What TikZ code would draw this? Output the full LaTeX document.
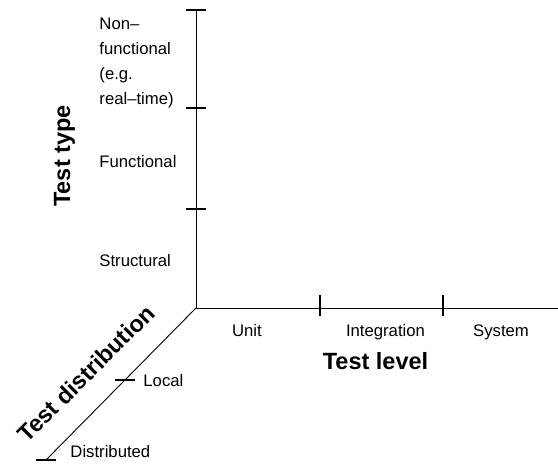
\documentclass[tikz,border=0pt]{standalone}
\usepackage{fontspec}
\setmainfont{Liberation Sans}

\begin{document}
\begin{tikzpicture}[x=1pt,y=1pt,line width=0.9pt,
  value/.style={inner sep=0,font=\fontsize{16.7}{25}\selectfont},
  title/.style={inner sep=0,font=\fontsize{23.5}{28}\selectfont\bfseries},
  tickmark/.style={line width=1.4pt}]
  \useasboundingbox (0,0) rectangle (558,465);

  % axes
  \coordinate (o) at (196,157);
  \coordinate (type) at (196,455);
  \coordinate (level) at (558,157);
  \coordinate (dist) at (46,5);
  \draw (type) -- (o) -- (level);
  \draw (o) -- (dist);

  % tick marks
  \coordinate (t1) at (196,357);
  \coordinate (t2) at (196,256);
  \coordinate (l1) at (320,157);
  \coordinate (l2) at (443,157);
  \coordinate (d1) at (125,85);
  \foreach \c in {type,t1,t2,d1,dist}
    \draw[tickmark] ([xshift=-10]\c) -- ([xshift=10]\c);
  \foreach \c in {l1,l2}
    \draw[tickmark] ([yshift=-8]\c) -- ([yshift=13]\c);

  % labels
  \node[value,anchor=north west,align=left] (nf) at (99,447) {Non–\\functional\\(e.g.\\real–time)};
  \node[value,anchor=base west] (fn) at (99,297) {Functional};
  \node[value,anchor=base west] (st) at (99,198) {Structural};
  \node[title,anchor=base,rotate=90] (tt) at (70,309) {Test type};

  \node[value,anchor=base] (un) at (247,128) {Unit};
  \node[value,anchor=base] (in) at (385.5,128) {Integration};
  \node[value,anchor=base] (sy) at (501,128) {System};
  \node[title,anchor=base] (tl) at (375.5,95) {Test level};

  \node[value,anchor=base west] (lo) at (143,78) {Local};
  \node[value,anchor=base west] (di) at (70,7) {Distributed};
  \node[title,rotate=45] (td) at (86,91.5) {Test distribution};
\end{tikzpicture}
\end{document}
